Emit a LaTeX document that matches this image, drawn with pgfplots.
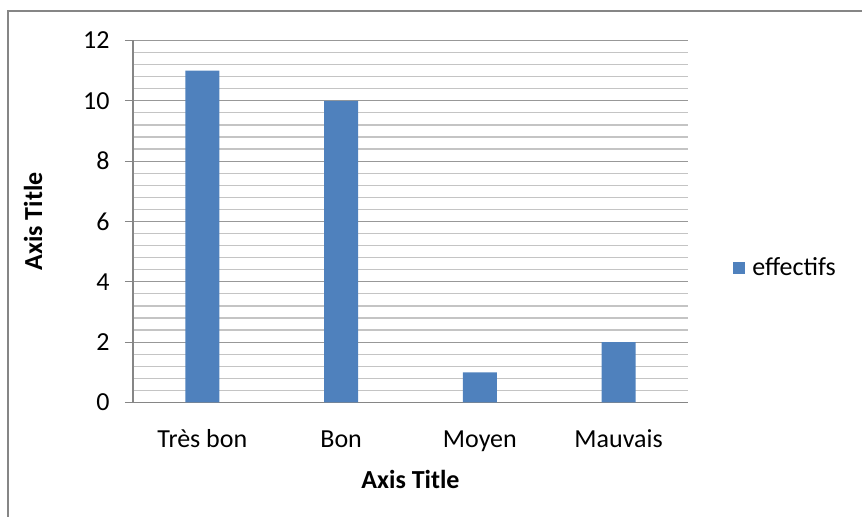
\documentclass[border=0pt]{standalone}
\usepackage{pgfplots}
\pgfplotsset{compat=1.18}
\usepackage{fontspec}
\setmainfont{Carlito}
\definecolor{barblue}{HTML}{4F81BD}
\definecolor{majgrid}{HTML}{989898}
\definecolor{mingrid}{HTML}{C4C4C4}
\definecolor{axgray}{HTML}{868686}
\begin{document}
\begin{tikzpicture}
\path[use as bounding box] (0pt,0pt) rectangle (431pt,258.5pt);
\draw[axgray, line width=0.75pt] (4pt,0pt) -- (4pt,253pt) -- (431pt,253pt);
\begin{axis}[
  at={(66.5pt,57.25pt)}, anchor=south west,
  scale only axis, width=277.5pt, height=181pt,
  xmin=-0.5, xmax=3.5, ymin=0, ymax=12,
  axis x line=bottom, axis y line=left,
  axis line style={-, axgray, line width=0.6pt},
  xtick=data,
  xticklabels={Très bon, Bon, Moyen, Mauvais},
  xtick style={draw=none},
  ytick={0,2,4,6,8,10,12},
  minor y tick num=4,
  ymajorgrids, yminorgrids,
  major grid style={majgrid, line width=0.6pt},
  minor grid style={mingrid, line width=0.6pt},
  tick align=outside,
  major tick length=4pt, minor tick length=0pt,
  ytick style={axgray, line width=0.6pt},
  /pgf/number format/assume math mode=true,
  ticklabel style={font=\fontsize{13}{15}\selectfont, text=black},
  yticklabel style={anchor=east, inner sep=0pt, xshift=-7.5pt},
  xticklabel style={anchor=base, yshift=-18.5pt},
  xlabel={Axis Title}, ylabel={Axis Title},
  label style={font=\bfseries\fontsize{13}{15}\selectfont},
  xlabel style={at={(axis description cs:0.5,-0.212)}, anchor=center},
  ylabel style={at={(axis description cs:-0.180,0.5)}, anchor=center},
  ybar, bar width=17pt,
  legend style={at={(axis description cs:1.081,0.3715)}, anchor=west, draw=none,
    fill=none, inner sep=0pt, font=\fontsize{13}{15}\selectfont},
  legend image code/.code={\fill[#1] (0pt,-3pt) rectangle (6pt,3pt); \path (7.5pt,0pt);},
]
\addplot[fill=barblue, draw=none] coordinates {(0,11) (1,10) (2,1) (3,2)};
\addlegendentry{effectifs}
\end{axis}
\end{tikzpicture}
\end{document}
